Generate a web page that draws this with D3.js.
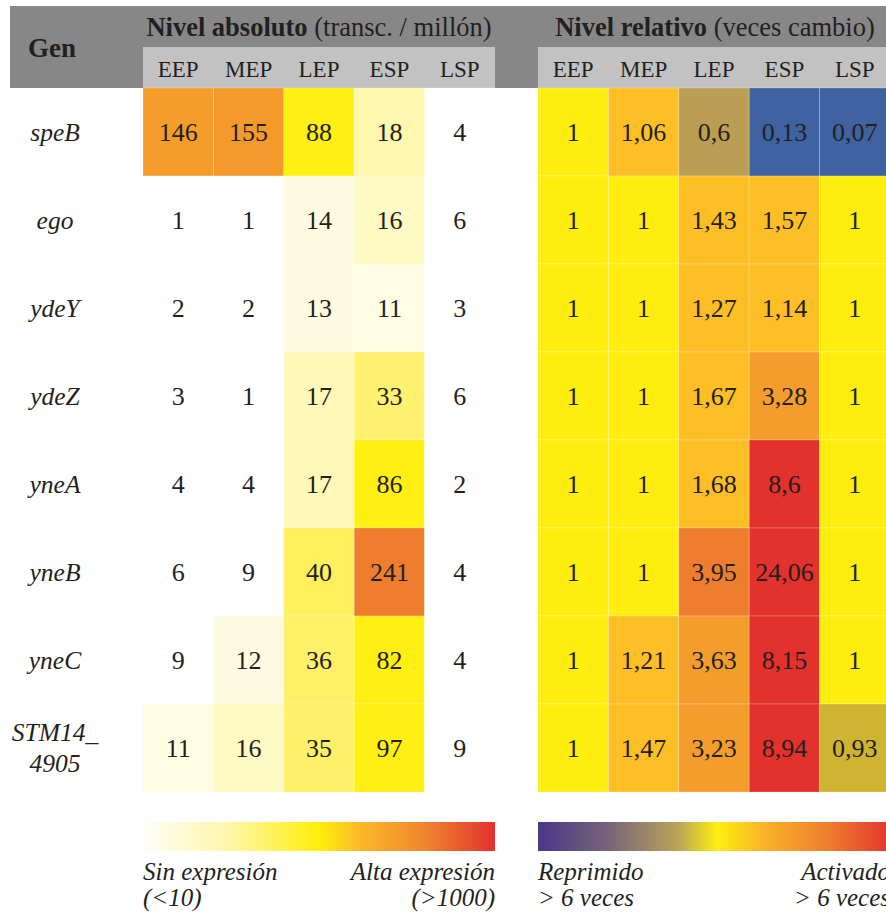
<!DOCTYPE html>
<html>
<head>
<meta charset="utf-8">
<script src="https://cdn.jsdelivr.net/npm/d3@7"></script>
<style>
  html, body { margin: 0; padding: 0; background: #ffffff; }
  svg { display: block; }
  text { font-family: "Liberation Serif", "Times New Roman", serif; fill: #231f20; }
</style>
</head>
<body>
<svg id="chart" width="886" height="915"></svg>
<script>
// Genes (rows) and growth phases (columns)
const genes = ["speB", "ego", "ydeY", "ydeZ", "yneA", "yneB", "yneC", "STM14_4905"];
const phases = ["EEP", "MEP", "LEP", "ESP", "LSP"];

// Absolute level: transcripts per million, one array per phase (gene order above)
const absEEP = [146, 1, 2, 3, 4, 6, 9, 11];
const absMEP = [155, 1, 2, 1, 4, 9, 12, 16];
const absLEP = [88, 14, 13, 17, 17, 40, 36, 35];
const absESP = [18, 16, 11, 33, 86, 241, 82, 97];
const absLSP = [4, 6, 3, 6, 2, 4, 4, 9];

// Relative level: fold change, one array per phase
const relEEP = [1, 1, 1, 1, 1, 1, 1, 1];
const relMEP = [1.06, 1, 1, 1, 1, 1, 1.21, 1.47];
const relLEP = [0.6, 1.43, 1.27, 1.67, 1.68, 3.95, 3.63, 3.23];
const relESP = [0.13, 1.57, 1.14, 3.28, 8.6, 24.06, 8.15, 8.94];
const relLSP = [0.07, 1, 1, 1, 1, 1, 1, 0.93];

// Legend captions
const absLegendLow = ["Sin expresión", "(<10)"];
const absLegendHigh = ["Alta expresión", "(>1000)"];
const relLegendLow = ["Reprimido", "> 6 veces"];
const relLegendHigh = ["Activado", "> 6 veces"];

const absCols = [absEEP, absMEP, absLEP, absESP, absLSP];
const relCols = [relEEP, relMEP, relLEP, relESP, relLSP];

const svg = d3.select("#chart");

// Layout
const gridTop = 88, rowH = 88;
const absX0 = 143, absX1 = 495;
const relX0 = 538, relX1 = 890;

const y = d3.scaleBand().domain(genes).range([gridTop, gridTop + rowH * genes.length]);
const xAbs = d3.scaleBand().domain(phases).range([absX0, absX1]);
const xRel = d3.scaleBand().domain(phases).range([relX0, relX1]);

// Colour scales
const absColor = d3.scaleLog()
  .domain([1, 9.9, 10, 14, 16, 18, 35, 80, 100, 146, 241, 1000])
  .range(["#ffffff", "#ffffff", "#fffce6", "#fffbe0", "#fff9c4", "#fff7ad", "#fff06a", "#ffef12", "#ffef12", "#f59d2b", "#ee7e2e", "#e3302f"])
  .interpolate(d3.interpolateRgb)
  .clamp(true);

const relColor = d3.scaleLog()
  .domain([0.13, 0.6, 0.93, 1, 1.05, 1.7, 3.2, 3.7, 3.95, 8])
  .range(["#3f62a0", "#b99e54", "#cfb432", "#ffed10", "#fdbe26", "#fdbe26", "#f49c2c", "#f49c2c", "#ee7d2f", "#e3312e"])
  .interpolate(d3.interpolateRgb)
  .clamp(true);

const fmtRel = v => String(v).replace(".", ",");

// Header band
svg.append("rect").attr("x", 10).attr("y", 6).attr("width", 886 - 10).attr("height", gridTop - 6).attr("fill", "#878787");
svg.append("rect").attr("x", absX0).attr("y", 47).attr("width", absX1 - absX0).attr("height", gridTop - 47).attr("fill", "#c2c2c2");
svg.append("rect").attr("x", relX0).attr("y", 47).attr("width", 886 - relX0).attr("height", gridTop - 47).attr("fill", "#c2c2c2");

svg.append("text").attr("x", 52).attr("y", 57).attr("text-anchor", "middle")
  .attr("font-size", 27).attr("font-weight", "bold").text("Gen");

function panelTitle(cx, bold, rest) {
  const t = svg.append("text").attr("x", cx).attr("y", 36).attr("text-anchor", "middle").attr("font-size", 26.5);
  t.append("tspan").attr("font-weight", "bold").text(bold);
  t.append("tspan").text(rest);
}
panelTitle((absX0 + absX1) / 2, "Nivel absoluto", " (transc. / millón)");
panelTitle(715, "Nivel relativo", " (veces cambio)");

[xAbs, xRel].forEach(x => {
  svg.append("g").selectAll("text").data(phases).join("text")
    .attr("x", d => x(d) + x.bandwidth() / 2)
    .attr("y", 77)
    .attr("text-anchor", "middle")
    .attr("font-size", 23)
    .text(d => d);
});

// Row labels
const rowLabels = svg.append("g");
genes.forEach(g => {
  const cy = y(g) + y.bandwidth() / 2;
  const t = rowLabels.append("text").attr("text-anchor", "middle").attr("font-size", 25.5).attr("font-style", "italic");
  if (g.includes("_")) {
    const [a, b] = g.split("_");
    t.append("tspan").attr("x", 55).attr("y", cy - 7).text(a + "_");
    t.append("tspan").attr("x", 55).attr("y", cy + 24).text(b);
  } else {
    t.attr("x", 55).attr("y", cy + 9).text(g);
  }
});

// Heatmap cells
function drawPanel(cols, x, color, fmt) {
  const cells = [];
  cols.forEach((arr, j) => arr.forEach((v, i) => cells.push({ gene: genes[i], phase: phases[j], v })));
  const g = svg.append("g");
  g.selectAll("rect").data(cells).join("rect")
    .attr("x", d => x(d.phase))
    .attr("y", d => y(d.gene))
    .attr("width", x.bandwidth())
    .attr("height", y.bandwidth())
    .attr("fill", d => color(d.v))
    .attr("stroke", "rgba(255,255,255,0.22)")
    .attr("stroke-width", 1);
  g.selectAll("text").data(cells).join("text")
    .attr("x", d => x(d.phase) + x.bandwidth() / 2)
    .attr("y", d => y(d.gene) + y.bandwidth() / 2 + 9)
    .attr("text-anchor", "middle")
    .attr("font-size", 26)
    .text(d => fmt(d.v));
}
drawPanel(absCols, xAbs, absColor, v => String(v));
drawPanel(relCols, xRel, relColor, fmtRel);

// Legends
const defs = svg.append("defs");
function gradient(id, stops) {
  const lg = defs.append("linearGradient").attr("id", id).attr("x1", "0%").attr("x2", "100%");
  stops.forEach(([o, c]) => lg.append("stop").attr("offset", o).attr("stop-color", c));
}
gradient("gradAbs", [["0%", "#fffefa"], ["25%", "#fff6a6"], ["50%", "#ffef0a"], ["62%", "#fbb82a"], ["80%", "#ef862e"], ["100%", "#e3302f"]]);
gradient("gradRel", [["0%", "#4a3688"], ["20%", "#776478"], ["40%", "#bba558"], ["51%", "#ffee10"], ["65%", "#f9b028"], ["82%", "#ef7f2e"], ["100%", "#e4352f"]]);

const legY = 822, legH = 29;
svg.append("rect").attr("x", absX0).attr("y", legY).attr("width", absX1 - absX0).attr("height", legH).attr("fill", "url(#gradAbs)");
svg.append("rect").attr("x", relX0).attr("y", legY).attr("width", relX1 - relX0).attr("height", legH).attr("fill", "url(#gradRel)");

function caption(x, anchor, lines) {
  const t = svg.append("text").attr("text-anchor", anchor).attr("font-size", 25).attr("font-style", "italic");
  lines.forEach((s, k) => t.append("tspan").attr("x", x).attr("y", 880 + k * 26).text(s));
}
caption(absX0, "start", absLegendLow);
caption(absX1, "end", absLegendHigh);
caption(relX0, "start", relLegendLow);
caption(relX1, "end", relLegendHigh);
</script>
</body>
</html>
